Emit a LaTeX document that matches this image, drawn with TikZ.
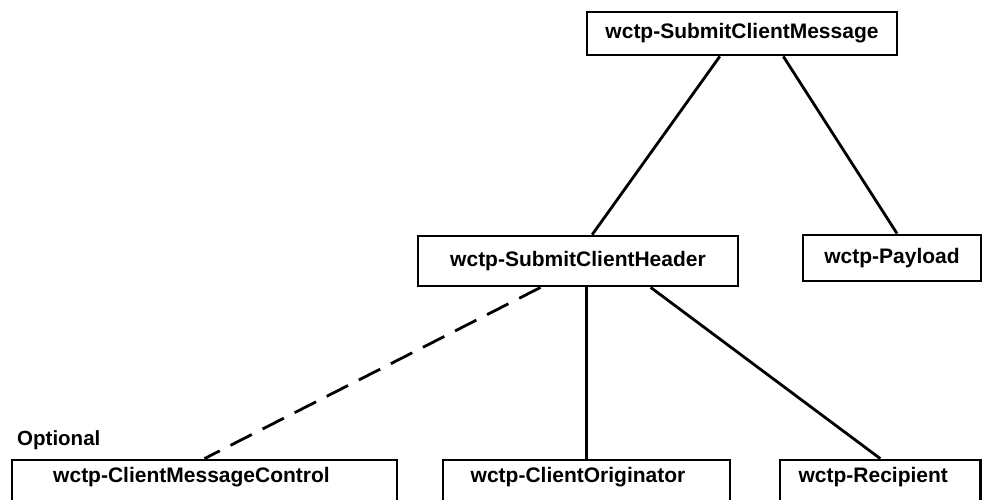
\documentclass[tikz,border=0pt]{standalone}
\usepackage{fontspec}
\setmainfont{Liberation Sans}
\usetikzlibrary{calc}
\begin{document}
\begin{tikzpicture}[x=1pt,y=-1pt,
  box/.style={draw, line width=2.8pt, rectangle, inner sep=0pt,
    font=\fontsize{21}{25}\selectfont\bfseries, text height=15pt, text depth=4.5pt},
  lowbox/.style={box, text depth=21pt, minimum height=50pt},
  link/.style={line width=2.8pt},
  optlink/.style={link, dash pattern=on 24pt off 12pt},
  tag/.style={font=\fontsize{20.5}{24}\selectfont\bfseries, inner sep=0pt, anchor=base west}]
\useasboundingbox (0,0) rectangle (982,500);
\clip (0,0) rectangle (982,500);
% boxes
\node[box, minimum width=310pt, minimum height=43pt] (msg) at (742,33.5) {wctp-SubmitClientMessage};
\node[box, minimum width=320pt, minimum height=50pt] (hdr) at (578,261) {wctp-SubmitClientHeader};
\node[box, minimum width=178pt, minimum height=46pt] (pay) at (892,258) {wctp-Payload};
\node[lowbox, minimum width=385pt] (cmc) at (204.5,485) {\hspace*{-26pt}wctp-ClientMessageControl};
\node[lowbox, minimum width=287pt] (orig) at (586.5,485) {\hspace*{-17pt}wctp-ClientOriginator};
\node[lowbox, minimum width=200.5pt] (rec) at (880.25,485) {\hspace*{-14pt}wctp-Recipient};
\node[tag] (opt) at (17,445) {Optional};
% connectors
\draw[link] ($(msg.south west)!0.429!(msg.south east)$) -- ($(hdr.north west)!0.544!(hdr.north east)$);
\draw[link] ($(msg.south west)!0.632!(msg.south east)$) -- ($(pay.north west)!0.528!(pay.north east)$);
\draw[optlink] ($(hdr.south west)!0.384!(hdr.south east)$) -- (cmc.north);
\draw[link] (hdr.south -| orig.north) -- (orig.north);
\draw[link] ($(hdr.south west)!0.725!(hdr.south east)$) -- (rec.north);
\end{tikzpicture}
\end{document}
